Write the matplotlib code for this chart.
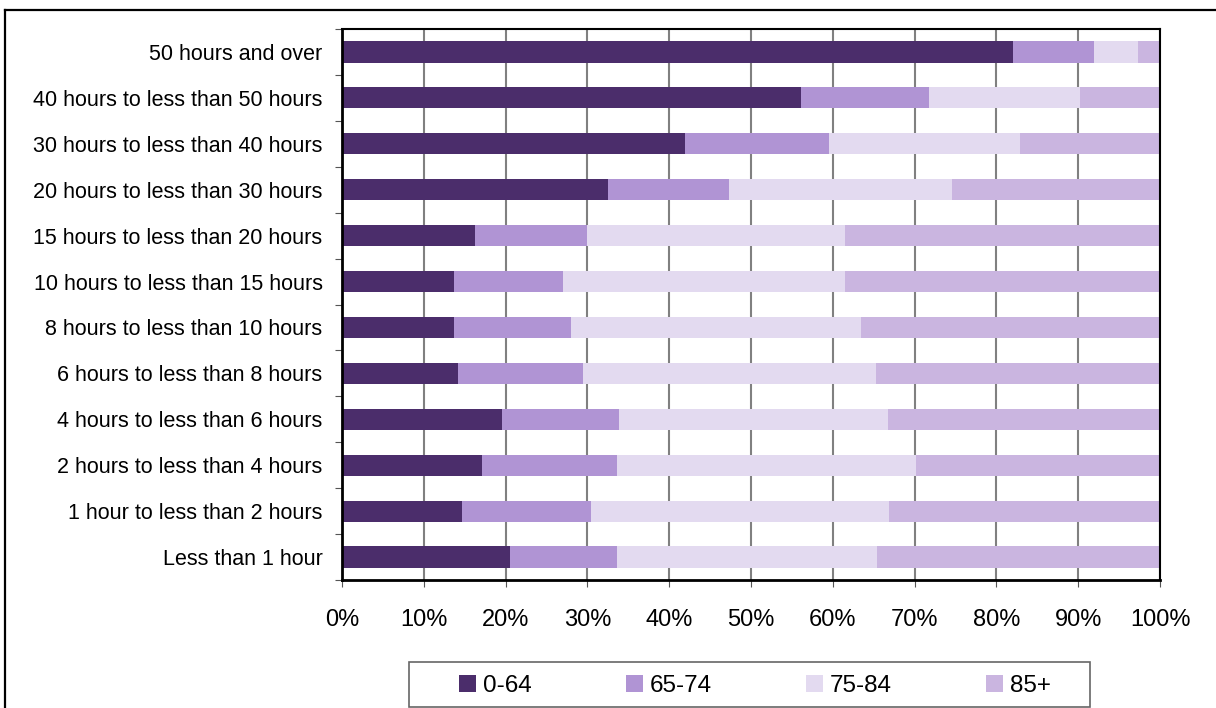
import numpy as np
from matplotlib import pyplot as plt
from matplotlib.lines import Line2D
from matplotlib.patches import Rectangle

plt.rcParams['font.family'] = ['Liberation Sans', 'DejaVu Sans']

categories = ['Less than 1 hour', '1 hour to less than 2 hours',
              '2 hours to less than 4 hours', '4 hours to less than 6 hours',
              '6 hours to less than 8 hours', '8 hours to less than 10 hours',
              '10 hours to less than 15 hours', '15 hours to less than 20 hours',
              '20 hours to less than 30 hours', '30 hours to less than 40 hours',
              '40 hours to less than 50 hours', '50 hours and over']
series = ['0-64', '65-74', '75-84', '85+']
age_0_64 = [20.5, 14.7, 17.1, 19.6, 14.2, 13.7, 13.7, 16.3, 32.5, 41.9, 56.1, 82.0]
age_65_74 = [13.1, 15.7, 16.5, 14.3, 15.3, 14.3, 13.3, 13.7, 14.8, 17.6, 15.7, 9.9]
age_75_84 = [31.8, 36.5, 36.6, 32.8, 35.8, 35.4, 34.5, 31.5, 27.3, 23.4, 18.4, 5.4]
age_85 = [34.6, 33.1, 29.8, 33.3, 34.7, 36.6, 38.5, 38.5, 25.4, 17.1, 9.8, 2.7]
colors = ['#4b2d6b', '#b094d4', '#e3daf0', '#cab5e0']

fig = plt.figure(figsize=(12.16, 7.08), dpi=100)
ax = fig.add_axes([342 / 1216, 1 - 580 / 708, 818 / 1216, 551 / 708])

y = np.arange(len(categories))
left = np.zeros(len(categories))
for name, vals, c in zip(series, [age_0_64, age_65_74, age_75_84, age_85], colors):
    vals = np.array(vals)
    ax.barh(y, vals, left=left, height=0.46, color=c, label=name, zorder=3)
    left = left + vals

ax.set_xlim(0, 100)
ax.set_ylim(-0.5, len(categories) - 0.5)
ax.set_xticks(np.arange(0, 101, 10))
ax.set_xticklabels(['%d%%' % v for v in range(0, 101, 10)], fontsize=17)
ax.set_yticks(np.arange(len(categories) + 1) - 0.5)
ax.set_yticklabels([])
ax.set_yticks(y, minor=True)
ax.set_yticklabels(categories, minor=True, fontsize=15.5)
ax.tick_params(axis='y', which='minor', length=0, pad=14)
ax.tick_params(axis='y', which='major', length=5, direction='out', color='#555555')
ax.tick_params(axis='x', length=5, direction='out', pad=16, color='#555555')
ax.grid(axis='x', color='#808080', linewidth=1.5, zorder=0)
for s in ax.spines.values():
    s.set_color('black')
    s.set_linewidth(1.5)
    s.set_zorder(4)
ax.spines['left'].set_linewidth(2)
ax.spines['bottom'].set_linewidth(2)

# legend entries, frame drawn separately to match the wide box
leg = fig.legend(loc='center left', bbox_to_anchor=(459 / 1216, 1 - 686 / 708), ncol=4,
                 fontsize=17.5, frameon=False, handlelength=0.7, handleheight=0.7,
                 handletextpad=0.3, columnspacing=3.85, borderpad=0, borderaxespad=0)
fig.patches.append(Rectangle((409 / 1216, 1 - 707 / 708), 681 / 1216, 45 / 708,
                             transform=fig.transFigure, fill=False,
                             edgecolor='#666666', linewidth=1.2))

# outer chart border (top and left visible)
fig.lines.append(Line2D([5 / 1216, 5 / 1216], [0, 1 - 9.5 / 708], transform=fig.transFigure,
                        color='black', linewidth=1.6))
fig.lines.append(Line2D([5 / 1216, 1], [1 - 9.5 / 708, 1 - 9.5 / 708], transform=fig.transFigure,
                        color='black', linewidth=1.6))

plt.savefig('out.png', dpi=100)
